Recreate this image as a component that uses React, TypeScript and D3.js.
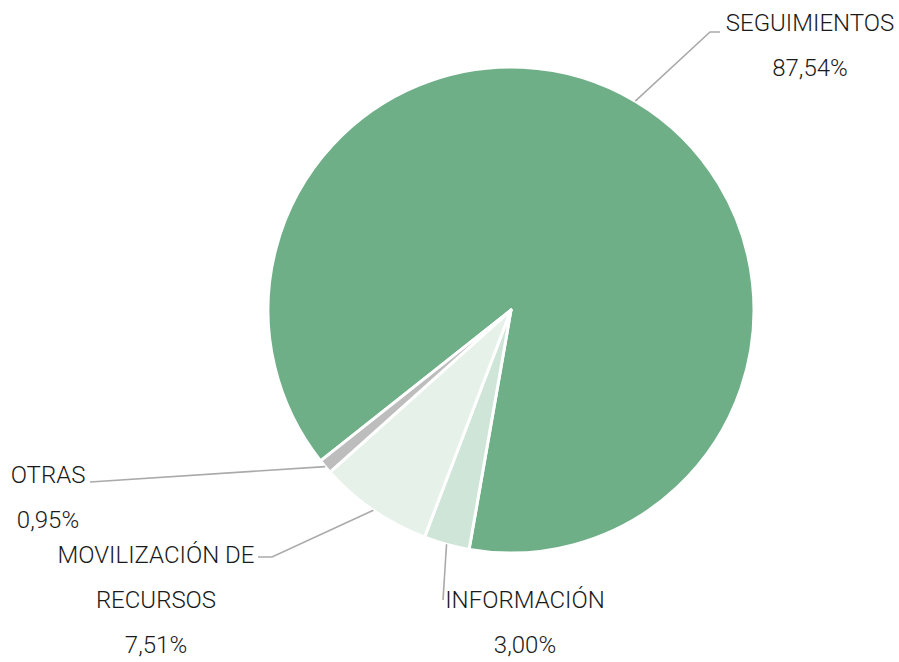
import React, { useEffect, useRef } from 'react';
import * as d3 from 'd3';

// chart data
const categories = ['SEGUIMIENTOS', 'INFORMACIÓN', 'MOVILIZACIÓN DE RECURSOS', 'OTRAS'];
const values = [87.54, 3.0, 7.51, 0.95];
const colors = ['#6faf88', '#cfe5d8', '#e6f1e9', '#bdbdbd'];

// label lines (split text) per slice
const labelLines = [['SEGUIMIENTOS'], ['INFORMACIÓN'], ['MOVILIZACIÓN DE', 'RECURSOS'], ['OTRAS']];

const App: React.FC = () => {
  const svgRef = useRef<SVGSVGElement | null>(null);

  useEffect(() => {
    const width = 899;
    const height = 662;
    const cx = 511;
    const cy = 310;
    const radius = 243;
    const lineH = 45;

    const svg = d3.select(svgRef.current);
    svg.selectAll('*').remove();
    svg.attr('width', width).attr('height', height);

    const data = categories.map((c, i) => ({ name: c, value: values[i], color: colors[i], lines: labelLines[i] }));

    const start = (-128.4 * Math.PI) / 180;
    const pie = d3
      .pie<any>()
      .sort(null)
      .value(d => d.value)
      .startAngle(start)
      .endAngle(start + 2 * Math.PI);

    const arcs = pie(data);
    const arc = d3.arc<any>().innerRadius(0).outerRadius(radius);
    const edge = d3.arc<any>().innerRadius(radius).outerRadius(radius);

    const g = svg.append('g').attr('transform', `translate(${cx},${cy})`);

    g.selectAll('path.slice')
      .data(arcs)
      .enter()
      .append('path')
      .attr('class', 'slice')
      .attr('d', arc)
      .attr('fill', d => d.data.color)
      .attr('stroke', '#fff')
      .attr('stroke-width', 3)
      .attr('stroke-linejoin', 'round');

    // label layout: elbow point, line end, text anchor (x, first baseline) in page coords
    const layout = [
      { elbow: [710, 32], end: [720, 32], tx: 810, ty: 31 },
      { elbow: [443, 600], end: [443, 600], tx: 525, ty: 608 },
      { elbow: [272, 557], end: [258, 557], tx: 156, ty: 563 },
      { elbow: [90, 482], end: [90, 482], tx: 48, ty: 483 },
    ];

    const fmt = (v: number) => v.toFixed(2).replace('.', ',') + '%';

    arcs.forEach((a, i) => {
      const [ex, ey] = edge.centroid(a);
      const l = layout[i];
      const pts: [number, number][] = [
        [cx + ex, cy + ey],
        [l.elbow[0], l.elbow[1]],
        [l.end[0], l.end[1]],
      ];
      svg
        .append('path')
        .attr('d', d3.line()(pts))
        .attr('fill', 'none')
        .attr('stroke', '#aaaaaa')
        .attr('stroke-width', 1.6);

      const t = svg
        .append('text')
        .attr('text-anchor', 'middle')
        .attr('font-family', 'Roboto, sans-serif')
        .attr('font-weight', 300)
        .attr('font-size', 24)
        .attr('fill', '#1a1a1a');
      const lines = [...a.data.lines, fmt(a.data.value)];
      lines.forEach((s, k) => {
        t.append('tspan').attr('x', l.tx).attr('y', l.ty + k * lineH).text(s);
      });
    });
  }, []);

  return (
    <div style={{ position: 'absolute', left: 0, top: 0 }}>
      <svg ref={svgRef} style={{ display: 'block' }} />
    </div>
  );
};

export default App;
